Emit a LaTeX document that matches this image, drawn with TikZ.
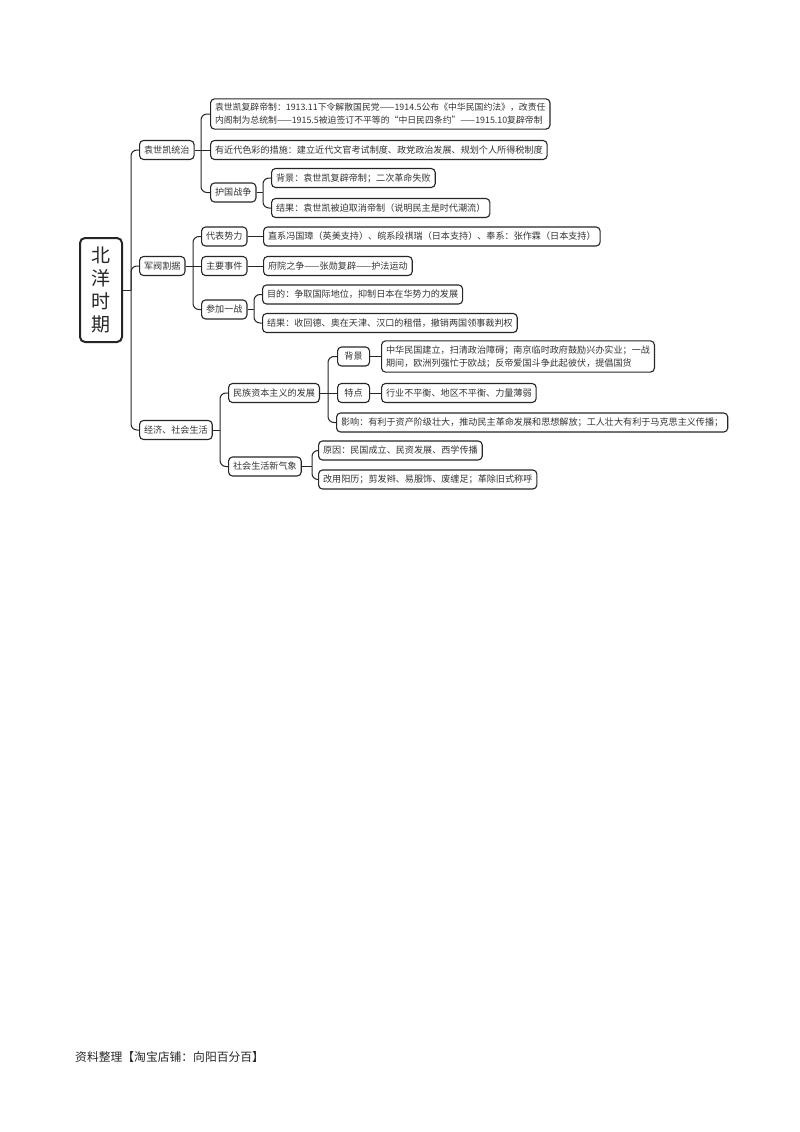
\documentclass[tikz,border=0pt]{standalone}
\usepackage{fontspec}
\newfontfamily\cjk{Noto Sans CJK SC}
\usetikzlibrary{calc}
\begin{document}
\begin{tikzpicture}[x=1pt,y=-1pt,
  box/.style={draw=black!85, line width=1.1pt, rounded corners=4pt,
    font=\cjk\fontsize{9.1}{13}\selectfont, text=black!80,
    inner xsep=4.5pt, inner ysep=3pt, minimum height=19pt, anchor=west, align=left},
  twoline/.style={inner ysep=4.5pt},
  rootbox/.style={draw=black!85, line width=2pt, rounded corners=5pt,
    font=\cjk\fontsize{19}{23}\selectfont, text=black!85,
    minimum width=42pt, minimum height=104pt, align=center},
  link/.style={draw=black!85, line width=1pt, rounded corners=6pt}]
\useasboundingbox (0,0) rectangle (800,1132);

% root
\node[rootbox] (root) at (101,290) {北\\洋\\时\\期};

% level 1
\node[box] (yuan) at (139,150) {袁世凯统治};
\node[box] (jun) at (139,266) {军阀割据};
\node[box] (jing) at (139,430) {经济、社会生活};

% yuan children
\node[box,twoline,font=\cjk\fontsize{8.85}{13}\selectfont] (y1) at (210,114) {袁世凯复辟帝制：1913.11下令解散国民党——1914.5公布《中华民国约法》，改责任\\内阁制为总统制——1915.5被迫签订不平等的“中日民四条约”——1915.10复辟帝制};
\node[box] (y2) at (210,150) {有近代色彩的措施：建立近代文官考试制度、政党政治发展、规划个人所得税制度};
\node[box] (hg) at (210,192.5) {护国战争};
\node[box] (hg1) at (271,178) {背景：袁世凯复辟帝制；二次革命失败};
\node[box] (hg2) at (271,208) {结果：袁世凯被迫取消帝制（说明民主是时代潮流）};

% jun children
\node[box] (db) at (201,236.5) {代表势力};
\node[box] (db1) at (263,236.5) {直系冯国璋（英美支持）、皖系段祺瑞（日本支持）、奉系：张作霖（日本支持）};
\node[box] (zy) at (201,266) {主要事件};
\node[box] (zy1) at (263,266) {府院之争——张勋复辟——护法运动};
\node[box] (cj) at (201,309.5) {参加一战};
\node[box] (cj1) at (262,294.5) {目的：争取国际地位，抑制日本在华势力的发展};
\node[box] (cj2) at (262,323) {结果：收回德、奥在天津、汉口的租借，撤销两国领事裁判权};

% jing children
\node[box] (mz) at (228,393) {民族资本主义的发展};
\node[box,minimum width=32pt,align=center] (bj) at (337,356.5) {背景};
\node[box,twoline] (bj1) at (381,356.5) {中华民国建立，扫清政治障碍；南京临时政府鼓励兴办实业；一战\\期间，欧洲列强忙于欧战；反帝爱国斗争此起彼伏，提倡国货};
\node[box,minimum width=32pt,align=center] (td) at (337,393) {特点};
\node[box] (td1) at (381,393) {行业不平衡、地区不平衡、力量薄弱};
\node[box] (yx) at (336,422.5) {影响：有利于资产阶级壮大，推动民主革命发展和思想解放；工人壮大有利于马克思主义传播；};
\node[box] (sh) at (228,466.5) {社会生活新气象};
\node[box] (sh1) at (318,450.5) {原因：民国成立、民资发展、西学传播};
\node[box] (sh2) at (318,479.5) {改用阳历；剪发辫、易服饰、废缠足；革除旧式称呼};

% footer
\node[font=\cjk\fontsize{11.8}{14}\selectfont, anchor=west, text=black!85, inner sep=0pt] (footer) at (75,1057) {资料整理【淘宝店铺：向阳百分百】};

% connectors
\coordinate (rb) at (131,290);
\draw[link] (root.east) -- (rb);
\foreach \c in {yuan,jun,jing} \draw[link] (rb) -- (rb |- \c.west) -- (\c.west);

\coordinate (yb) at (201,150);
\draw[link] (yuan.east) -- (y2.west);
\foreach \c in {y1,hg} \draw[link] (yb) -- (yb |- \c.west) -- (\c.west);

\coordinate (hb) at (263,192.5);
\draw[link] (hg.east) -- (hb);
\foreach \c in {hg1,hg2} \draw[link] (hb) -- (hb |- \c.west) -- (\c.west);

\coordinate (jb) at (193,266);
\draw[link] (jun.east) -- (zy.west);
\foreach \c in {db,cj} \draw[link] (jb) -- (jb |- \c.west) -- (\c.west);
\draw[link] (db.east) -- (db1.west);
\draw[link] (zy.east) -- (zy1.west);

\coordinate (cb) at (254,309.5);
\draw[link] (cj.east) -- (cb);
\foreach \c in {cj1,cj2} \draw[link] (cb) -- (cb |- \c.west) -- (\c.west);

\coordinate (gb) at (220,430);
\draw[link] (jing.east) -- (gb);
\foreach \c in {mz,sh} \draw[link] (gb) -- (gb |- \c.west) -- (\c.west);

\coordinate (mb) at (328,393);
\draw[link] (mz.east) -- (td.west);
\foreach \c in {bj,yx} \draw[link] (mb) -- (mb |- \c.west) -- (\c.west);
\draw[link] (bj.east) -- (bj1.west);
\draw[link] (td.east) -- (td1.west);

\coordinate (sb) at (312,466.5);
\draw[link] (sh.east) -- (sb);
\foreach \c in {sh1,sh2} \draw[link] (sb) -- (sb |- \c.west) -- (\c.west);
\end{tikzpicture}
\end{document}
